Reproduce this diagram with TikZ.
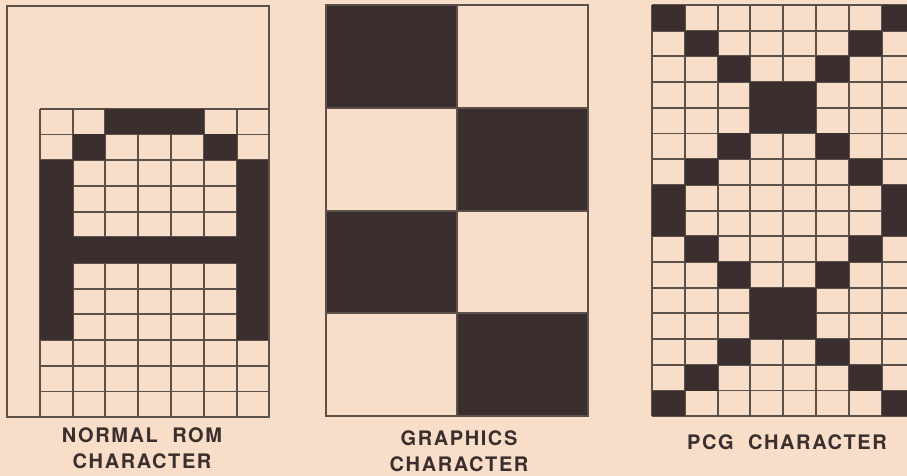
\documentclass[tikz,border=0pt]{standalone}
\usepackage{fontspec}
\setmainfont{TeX Gyre Heros}
\usepackage{tikz}
\definecolor{CGPaper}{RGB}{248,222,200}
\definecolor{CGInk}{RGB}{58,47,46}
\definecolor{CGRule}{RGB}{92,80,74}

\begin{document}
\begin{tikzpicture}[x=1pt, y=-1pt,
          cellrule/.style={draw=CGRule, line width=1.9pt},
          inkcell/.style={fill=CGInk},
          caption/.style={align=center, text=CGInk,
                          font=\fontsize{20}{25.5}\selectfont\bfseries\addfontfeatures{LetterSpace=8}}
        ]
        \def\cw{32.8}
        \def\ch{25.7}
        \fill[CGPaper] (0,0) rectangle (907,476);
        \clip (0,0) rectangle (907,476);

        % normal ROM character
        \begin{scope}[shift={(7,6)}]
          \foreach \c in {1,...,8} {
            \draw[cellrule] (\c*\cw,4*\ch) -- (\c*\cw,16*\ch);
          }
          \foreach \r in {4,...,16} {
            \draw[cellrule] (1*\cw,\r*\ch) -- (8*\cw,\r*\ch);
          }
          \foreach \c/\r in {3/4, 4/4, 5/4, 2/5, 6/5} {
            \fill[inkcell] (\c*\cw,\r*\ch) rectangle ++(\cw,\ch);
          }
          \foreach \r in {6,...,12} {
            \fill[inkcell] (1*\cw,\r*\ch) rectangle ++(\cw,\ch);
            \fill[inkcell] (7*\cw,\r*\ch) rectangle ++(\cw,\ch);
          }
          \fill[inkcell] (1*\cw,9*\ch) rectangle ++(7*\cw,\ch);
          \draw[cellrule] (0,0) rectangle (8*\cw,16*\ch);
        \end{scope}

        % graphics character
        \begin{scope}[shift={(326,5)}]
          \foreach \a/\b in {0/0, 4/4, 0/8, 4/12} {
            \fill[inkcell] (\a*\cw,\b*\ch) rectangle ++(4*\cw,4*\ch);
          }
          \draw[cellrule] (4*\cw,0) -- (4*\cw,16*\ch);
          \foreach \r in {4, 8, 12} {
            \draw[cellrule] (0,\r*\ch) -- (8*\cw,\r*\ch);
          }
          \draw[cellrule] (0,0) rectangle (8*\cw,16*\ch);
        \end{scope}

        % PCG character
        \begin{scope}[shift={(652,5)}]
          \foreach \c in {0,...,8} {
            \draw[cellrule] (\c*\cw,0) -- (\c*\cw,16*\ch);
          }
          \foreach \r in {0,...,16} {
            \draw[cellrule] (0,\r*\ch) -- (8*\cw,\r*\ch);
          }
          \foreach \r/\c in {0/0, 1/1, 2/2, 3/3, 4/3, 5/2, 6/1, 7/0} {
            \fill[inkcell] (\c*\cw,\r*\ch) rectangle ++(\cw,\ch);
            \fill[inkcell] ({(7-\c)*\cw},\r*\ch) rectangle ++(\cw,\ch);
            \fill[inkcell] (\c*\cw,{(15-\r)*\ch}) rectangle ++(\cw,\ch);
            \fill[inkcell] ({(7-\c)*\cw},{(15-\r)*\ch}) rectangle ++(\cw,\ch);
          }
        \end{scope}

        \node[caption] (romlbl) at (142,448) {NORMAL\ \ ROM\\CHARACTER};
        \node[caption] (gfxlbl) at (459,451) {GRAPHICS\\CHARACTER};
        \node[caption] (pcglbl) at (787,442) {PCG\ \ CHARACTER};
      \end{tikzpicture}
\end{document}
